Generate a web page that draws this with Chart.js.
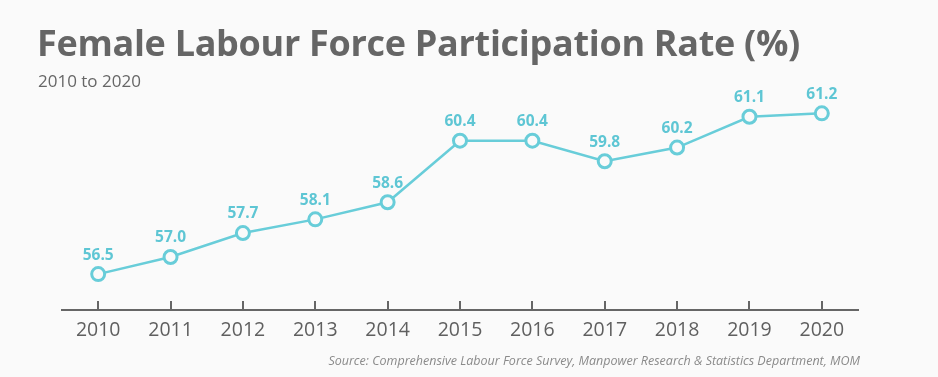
<!DOCTYPE html>
<html>
<head>
<meta charset="utf-8">
<script src="https://cdn.jsdelivr.net/npm/chart.js@4"></script>
<style>
  html, body { margin:0; padding:0; background:#fafafa; }
  #wrap { position:relative; width:938px; height:377px; background:#fafafa; font-family:"Open Sans", sans-serif; }
  #title { position:absolute; left:37px; top:18px; font-size:36px; font-weight:700; color:#666; white-space:nowrap; letter-spacing:-0.3px; }
  #sub { position:absolute; left:38px; top:69px; font-size:17px; color:#666; }
  #src { position:absolute; right:78px; top:352px; font-size:12.5px; font-style:italic; color:#8a8a8a; }
  canvas { position:absolute; left:0; top:0; }
</style>
</head>
<body>
<div id="wrap">
  <canvas id="c" width="938" height="377"></canvas>
  <div id="title">Female Labour Force Participation Rate (%)</div>
  <div id="sub">2010 to 2020</div>
  <div id="src">Source: Comprehensive Labour Force Survey, Manpower Research &amp; Statistics Department, MOM</div>
</div>
<script>
// ===== DATA =====
const years = ['2010','2011','2012','2013','2014','2015','2016','2017','2018','2019','2020'];
const rates = [56.5, 57.0, 57.7, 58.1, 58.6, 60.4, 60.4, 59.8, 60.2, 61.1, 61.2];

const LINE = '#68cdd9';
const LABEL = '#5ec6d4';
const GREY = '#666';

// value labels above each point
const valueLabels = {
  id:'valueLabels',
  afterDatasetsDraw(chart) {
    const ctx = chart.ctx;
    const meta = chart.getDatasetMeta(0);
    ctx.save();
    ctx.font = 'bold 15.5px "Open Sans"';
    ctx.fillStyle = LABEL;
    ctx.textAlign = 'center';
    ctx.textBaseline = 'middle';
    meta.data.forEach((pt,i) => {
      ctx.fillText(rates[i].toFixed(1), pt.x, pt.y - 19);
    });
    ctx.restore();
  }
};

// short tick marks standing up from the axis line
const upTicks = {
  id:'upTicks',
  afterDraw(chart) {
    const x = chart.scales.x, ctx = chart.ctx;
    ctx.save();
    ctx.strokeStyle = GREY;
    ctx.lineWidth = 2;
    x.ticks.forEach((t,i) => {
      const px = Math.round(x.getPixelForTick(i));
      ctx.beginPath();
      ctx.moveTo(px, x.top - 9);
      ctx.lineTo(px, x.top);
      ctx.stroke();
    });
    ctx.restore();
  }
};

new Chart(document.getElementById('c'), {
  type:'line',
  data:{
    labels:years,
    datasets:[{
      data:rates,
      borderColor:LINE,
      borderWidth:2.5,
      pointRadius:6.5,
      pointHoverRadius:6.5,
      pointBorderWidth:3,
      pointBorderColor:LINE,
      pointBackgroundColor:'#fafafa',
      tension:0
    }]
  },
  options:{
    responsive:false,
    animation:false,
    layout:{padding:{left:62, right:80, top:86, bottom:0}},
    plugins:{legend:{display:false}, tooltip:{enabled:false}},
    scales:{
      x:{
        offset:true,
        grid:{display:false, drawTicks:false},
        border:{display:true, color:GREY, width:2},
        ticks:{color:'#5f5f5f', font:{family:'"Open Sans"', size:19.5}, padding:9, maxRotation:0},
        afterFit(s){ s.height = 67; }
      },
      y:{display:false, min:55.45, max:62}
    }
  },
  plugins:[valueLabels, upTicks]
});
</script>
</body>
</html>
